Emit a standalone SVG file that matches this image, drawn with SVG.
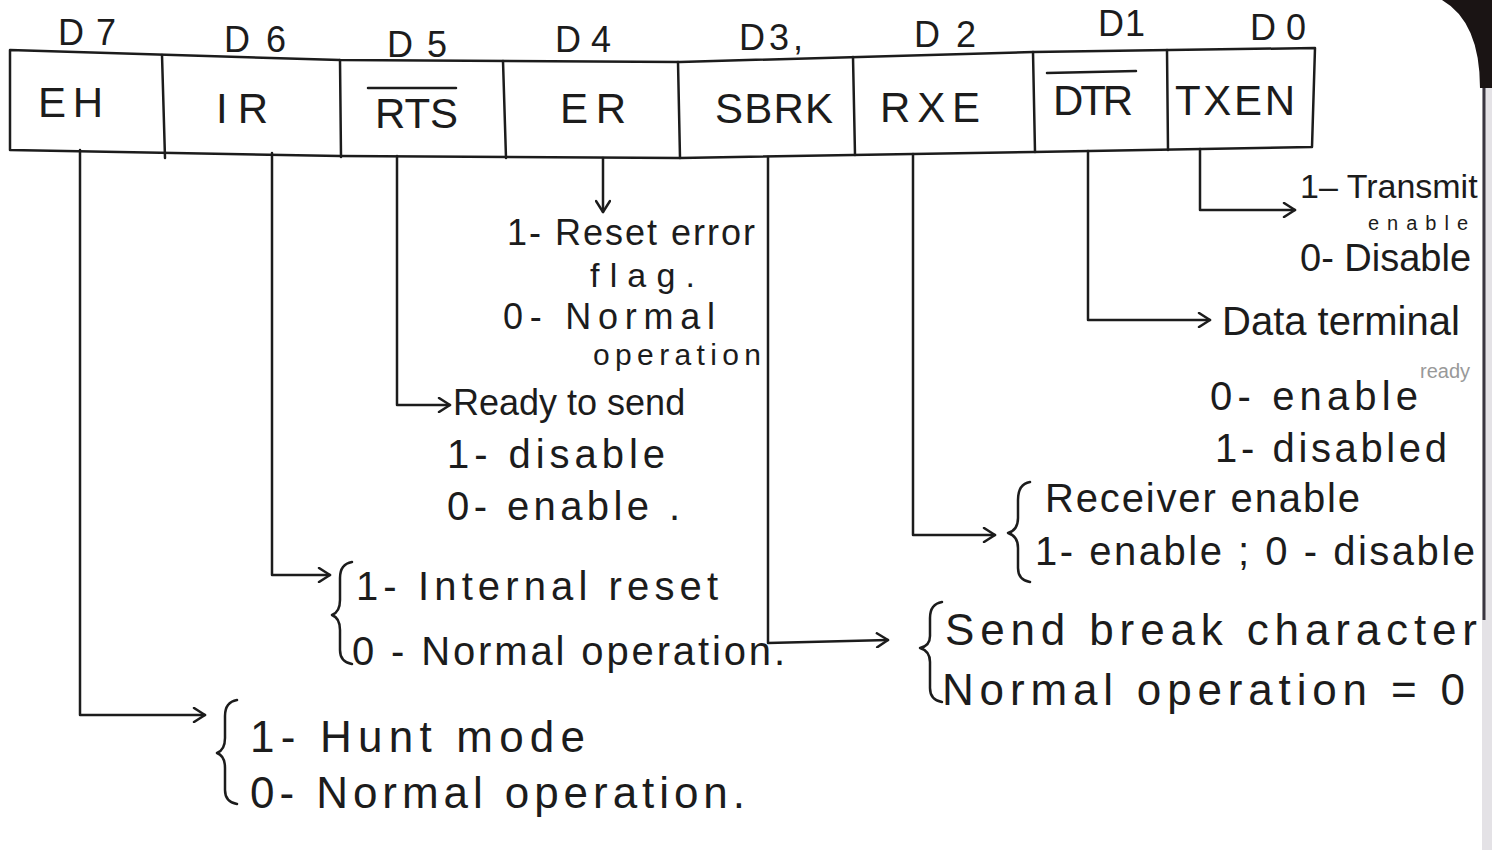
<svg xmlns="http://www.w3.org/2000/svg" width="1492" height="850" viewBox="0 0 1492 850">
<style>
.ln{stroke:#1c1c1c;stroke-width:2.5;fill:none;stroke-linecap:round;stroke-linejoin:round}
.t{font-family:"Liberation Sans",Arial,sans-serif;fill:#1c1c1c}
.d{font-size:36px}
.c{font-size:42px}
.a{font-size:40px}
.b{font-size:44px}
.s{font-size:20px}
.f{font-size:20px;fill:#999}
</style>
<defs>
<marker id="ar" markerWidth="16" markerHeight="16" refX="13" refY="8" orient="auto" markerUnits="userSpaceOnUse">
<polyline points="2,1 13,8 2,15" fill="none" stroke="#1c1c1c" stroke-width="2.5" stroke-linecap="round" stroke-linejoin="round"/>
</marker>
</defs>
<rect width="1492" height="850" fill="#ffffff"/>
<path d="M1442,0 L1492,0 L1492,88 L1480,88 Q1480,22 1442,0 Z" fill="#1a1414"/>
<rect x="1482" y="88" width="10" height="762" fill="#e4e2e6"/>
<path d="M1484,88 L1484,620" stroke="#3a3640" stroke-width="3"/>

<g id="register">
<path class="ln" d="M10,50 L340,60 L680,62 L1033,52 L1315,48 L1312,147 L1033,152 L680,158 L340,156 L10,150 Z"/>
<path class="ln" d="M162,55 L165,158 M340,60 L341,157 M503,61 L506,158 M678,62 L680,158 M853,57 L855,155 M1033,52 L1035,152 M1167,50 L1168,150"/>
<text class="t d" x="58" y="45" textLength="58">D7</text>
<text class="t d" x="224" y="52" textLength="62">D6</text>
<text class="t d" x="387" y="57" textLength="60">D5</text>
<text class="t d" x="555" y="52" textLength="56">D4</text>
<text class="t d" x="739" y="50" textLength="64">D3,</text>
<text class="t d" x="914" y="47" textLength="62">D2</text>
<text class="t d" x="1098" y="36" textLength="47">D1</text>
<text class="t d" x="1250" y="40" textLength="56">D0</text>
</g>

<g id="d7-eh"><text class="t c" x="38" y="117" textLength="65">EH</text></g>
<g id="d6-ir"><text class="t c" x="216" y="123" textLength="52">IR</text></g>
<g id="d5-rts"><text class="t c" x="375" y="128" textLength="83">RTS</text><path class="ln" d="M368,88 L456,88"/></g>
<g id="d4-er"><text class="t c" x="560" y="123" textLength="66">ER</text></g>
<g id="d3-sbrk"><text class="t c" x="715" y="123" textLength="118">SBRK</text></g>
<g id="d2-rxe"><text class="t c" x="880" y="122" textLength="100">RXE</text></g>
<g id="d1-dtr"><text class="t c" x="1053" y="115" textLength="80">DTR</text><path class="ln" d="M1047,73 L1136,71"/></g>
<g id="d0-txen"><text class="t c" x="1175" y="115" textLength="120">TXEN</text></g>

<g id="connectors">
<polyline class="ln" points="80,150 80,715 205,715" marker-end="url(#ar)"/>
<polyline class="ln" points="272,153 272,575 330,575" marker-end="url(#ar)"/>
<polyline class="ln" points="397,156 397,405 450,405" marker-end="url(#ar)"/>
<polyline class="ln" points="603,158 603,212" marker-end="url(#ar)"/>
<polyline class="ln" points="768,157 768,643 888,640" marker-end="url(#ar)"/>
<polyline class="ln" points="913,154 913,535 995,535" marker-end="url(#ar)"/>
<polyline class="ln" points="1088,151 1088,320 1210,320" marker-end="url(#ar)"/>
<polyline class="ln" points="1200,149 1200,210 1295,210" marker-end="url(#ar)"/>
</g>

<g id="txen-desc">
<text class="t" style="font-size:34px" x="1300" y="198">1– Transmit</text>
<text class="t s" x="1368" y="230" textLength="100">enable</text>
<text class="t" style="font-size:38px" x="1300" y="271">0- Disable</text>
</g>

<g id="dtr-desc">
<text class="t a" x="1222" y="335">Data terminal</text>
<text class="t f" x="1420" y="378">ready</text>
<text class="t a" x="1210" y="410" textLength="208">0- enable</text>
<text class="t a" x="1215" y="462" textLength="232">1- disabled</text>
</g>

<g id="rxe-desc">
<path class="ln" d="M1030,482 Q1018,484 1018,500 L1018,518 Q1018,530 1008,533 Q1018,536 1018,548 L1018,568 Q1018,580 1030,582"/>
<text class="t a" x="1045" y="512" textLength="315">Receiver enable</text>
<text class="t a" x="1035" y="565" textLength="440">1- enable ; 0 - disable</text>
</g>

<g id="sbrk-desc">
<path class="ln" d="M942,602 Q930,604 930,618 L930,636 Q930,646 920,648 Q930,651 930,662 L930,688 Q930,700 942,702"/>
<text class="t b" x="945" y="645" textLength="532">Send break character</text>
<text class="t b" x="942" y="705" textLength="523">Normal operation = 0</text>
</g>

<g id="er-desc">
<text class="t" style="font-size:36px" x="507" y="245" textLength="248">1- Reset error</text>
<text class="t" style="font-size:34px" x="590" y="287" textLength="105">flag.</text>
<text class="t" style="font-size:36px" x="503" y="329" textLength="212">0- Normal</text>
<text class="t" style="font-size:30px" x="593" y="365" textLength="168">operation</text>
</g>

<g id="rts-desc">
<text class="t" style="font-size:36px" x="453" y="415">Ready to send</text>
<text class="t a" x="447" y="468" textLength="218">1- disable</text>
<text class="t a" x="447" y="520" textLength="233">0- enable .</text>
</g>

<g id="ir-desc">
<path class="ln" d="M352,562 Q340,564 340,578 L340,600 Q340,612 332,615 Q340,618 340,630 L340,650 Q340,662 352,664"/>
<text class="t a" x="356" y="600" textLength="362">1- Internal reset</text>
<text class="t a" x="352" y="665" textLength="433">0 - Normal operation.</text>
</g>

<g id="eh-desc">
<path class="ln" d="M237,700 Q225,702 225,716 L225,738 Q225,750 217,753 Q225,756 225,768 L225,790 Q225,802 237,804"/>
<text class="t b" x="250" y="752" textLength="335">1- Hunt mode</text>
<text class="t b" x="250" y="808" textLength="495">0- Normal operation.</text>
</g>
</svg>
